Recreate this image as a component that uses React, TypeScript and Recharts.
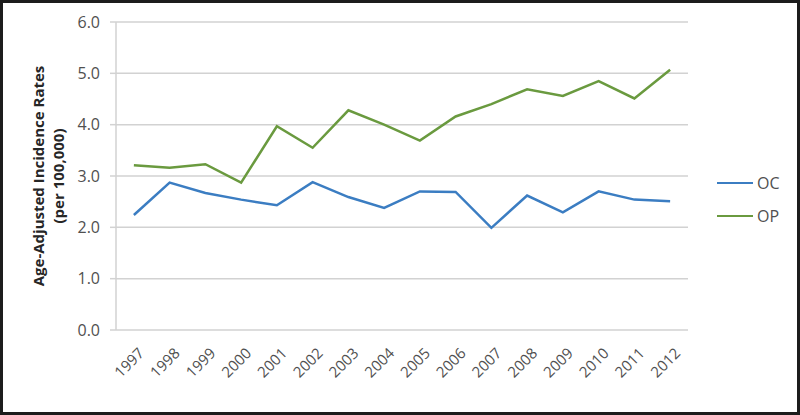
import React from 'react';
import { LineChart, Line, XAxis, YAxis, CartesianGrid } from 'recharts';

const years = ['1997','1998','1999','2000','2001','2002','2003','2004','2005','2006','2007','2008','2009','2010','2011','2012'];
const ocValues = [2.24, 2.87, 2.67, 2.54, 2.43, 2.88, 2.59, 2.38, 2.70, 2.69, 1.99, 2.62, 2.29, 2.70, 2.54, 2.51];
const opValues = [3.21, 3.16, 3.23, 2.87, 3.97, 3.55, 4.28, 4.00, 3.69, 4.16, 4.40, 4.69, 4.56, 4.85, 4.51, 5.07];
const yTicks = [0, 1, 2, 3, 4, 5, 6];
const seriesNames = ['OC', 'OP'];
const yLabelLines = ['Age-Adjusted Incidence Rates', '(per 100,000)'];

const data = years.map((y, i) => ({ year: y, OC: ocValues[i], OP: opValues[i] }));
const boundaryTicks = Array.from({ length: years.length + 1 }, (_, i) => i);

const FONT = '"Open Sans", "Liberation Sans", sans-serif';
const TEXT = '#505050';
const GRID = '#d2d2d2';
const BLUE = '#3b7dc2';
const GREEN = '#6a9a3f';

const XTick = (props: any) => {
  const { x, y, payload } = props;
  const tx = x + 7;
  const ty = y + 12;
  return (
    <text x={tx} y={ty} transform={`rotate(-45, ${tx}, ${ty})`} textAnchor="end" dominantBaseline="central"
      fill={TEXT} fontSize={15} fontFamily={FONT}>{payload.value}</text>
  );
};

const YLabel = () => (
  <g>
    <text x={38} y={176} transform="rotate(-90, 38, 176)" textAnchor="middle" dominantBaseline="central"
      fontSize={15} fontWeight="bold" fill="#262626" fontFamily={FONT}>{yLabelLines[0]}</text>
    <text x={58} y={176} transform="rotate(-90, 58, 176)" textAnchor="middle" dominantBaseline="central"
      fontSize={15} fontWeight="bold" fill="#262626" fontFamily={FONT}>{yLabelLines[1]}</text>
  </g>
);

export default function App() {
  return (
    <div style={{ position: 'absolute', left: 0, top: 0, width: 800, height: 415, background: '#fff' }}>
      <LineChart width={800} height={415} data={data} margin={{ top: 22, right: 112, left: 0, bottom: 0 }}>
        <CartesianGrid horizontal vertical={false} stroke={GRID} strokeWidth={1.5} xAxisId="labels" />
        <XAxis xAxisId="ticks" type="number" domain={[0, years.length]} ticks={boundaryTicks} tick={false}
          height={0} stroke={GRID} strokeWidth={1.5} tickSize={6} allowDataOverflow />
        <XAxis xAxisId="labels" dataKey="year" scale="band" interval={0} axisLine={false} tickLine={false}
          height={85} tick={<XTick />} />
        <YAxis domain={[0, 6]} ticks={yTicks} interval={0} width={116} tickFormatter={(v: number) => v.toFixed(1)}
          stroke={GRID} strokeWidth={1.5} tickSize={6} tickMargin={10}
          tick={{ fill: TEXT, fontSize: 16, fontFamily: FONT }} label={<YLabel />} />
        <Line xAxisId="labels" dataKey="OC" stroke={BLUE} strokeWidth={2.5} dot={false} isAnimationActive={false} />
        <Line xAxisId="labels" dataKey="OP" stroke={GREEN} strokeWidth={2.5} dot={false} isAnimationActive={false} />
      </LineChart>
      <div style={{ position: 'absolute', left: 717, top: 172, fontFamily: FONT, fontSize: 16, color: TEXT }}>
        {seriesNames.map((n, i) => (
          <div key={n} style={{ display: 'flex', alignItems: 'center', height: 22, marginBottom: i === 0 ? 11 : 0 }}>
            <div style={{ width: 36, height: 2.5, background: i === 0 ? BLUE : GREEN, marginRight: 4 }} />
            <span>{n}</span>
          </div>
        ))}
      </div>
      <div style={{ position: 'absolute', inset: 0, border: '3px solid #1c1c1c', pointerEvents: 'none' }} />
    </div>
  );
}
